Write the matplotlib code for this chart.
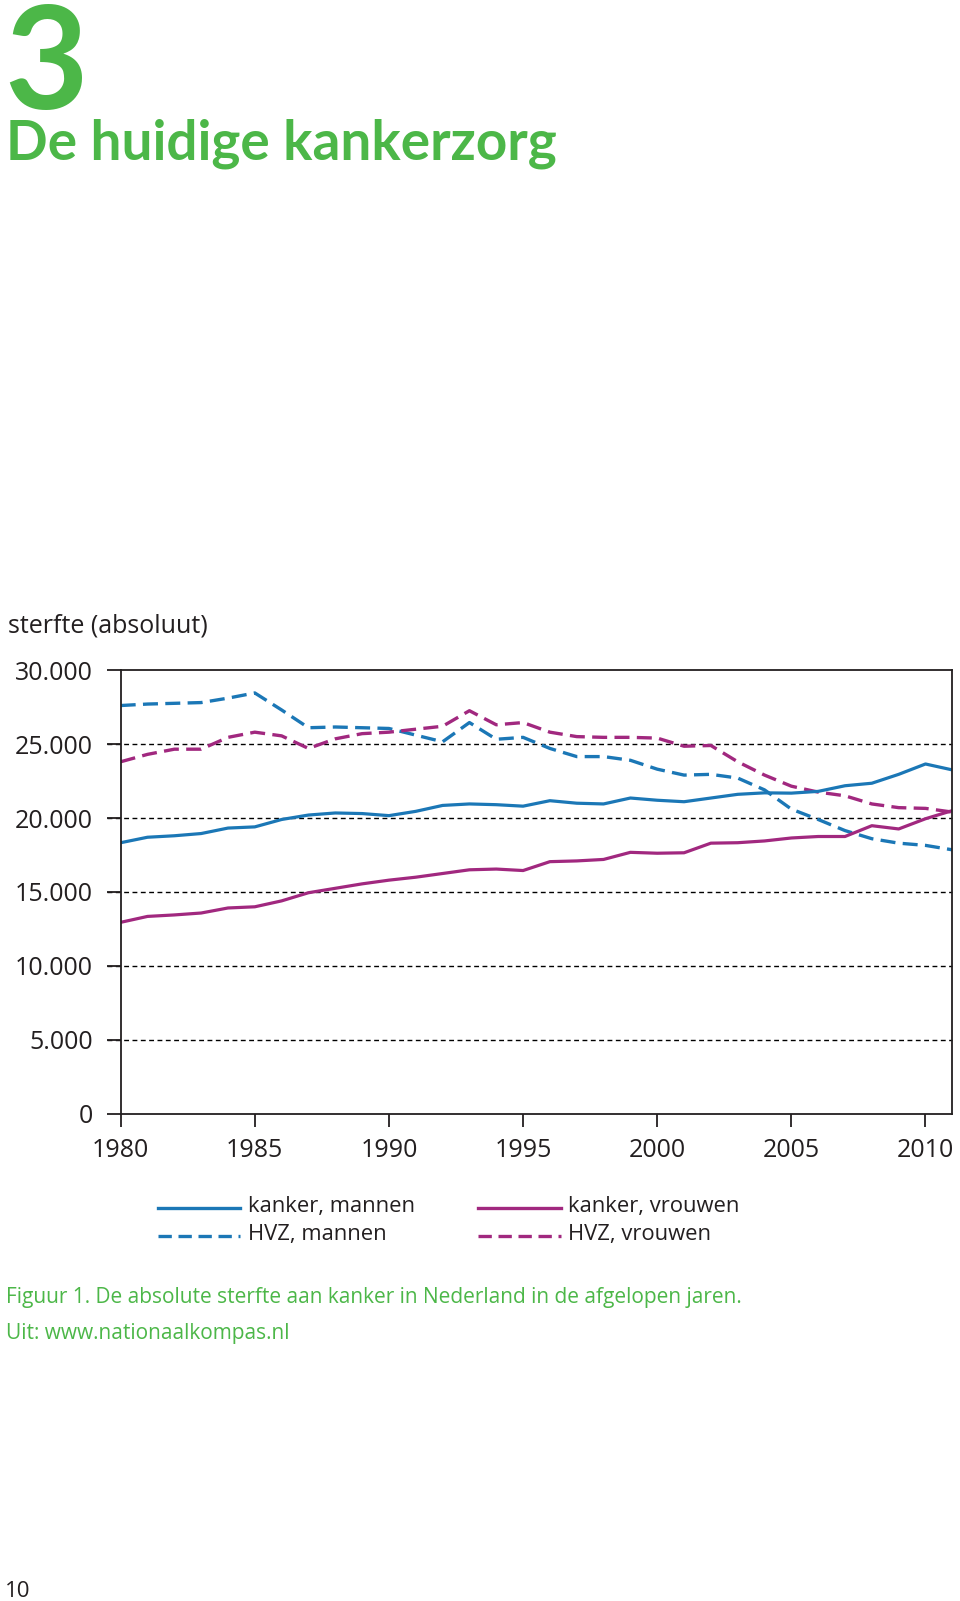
"""
Absolute sterfte aan kanker en HVZ in Nederland, 1980-2011.
Saves out.png (960x1601).
"""
import matplotlib
matplotlib.use("Agg")
import matplotlib.pyplot as plt
import matplotlib.ticker as ticker

plt.rcParams["font.family"] = ["Open Sans", "DejaVu Sans"]

GREEN = "#4cb748"
BLUE = "#1b77b6"
MAGENTA = "#a1287f"
TEXT = "#231f20"

# ── data ──────────────────────────────────────────────────────────────────────

years = list(range(1980, 2012))

kanker_mannen = [18330, 18700, 18800, 18950, 19320, 19400, 19900, 20200,
                 20340, 20300, 20160, 20450, 20850, 20950, 20900, 20800,
                 21170, 21000, 20950, 21350, 21200, 21100, 21350, 21600,
                 21700, 21680, 21800, 22180, 22350, 22950, 23650, 23250]

kanker_vrouwen = [12950, 13350, 13450, 13580, 13920, 14000, 14400, 14950,
                  15250, 15550, 15800, 16000, 16250, 16500, 16550, 16450,
                  17050, 17100, 17200, 17680, 17620, 17650, 18300, 18330,
                  18450, 18650, 18750, 18750, 19480, 19260, 19950, 20500]

hvz_mannen = [27600, 27700, 27750, 27800, 28100, 28450, 27300, 26100,
              26150, 26100, 26050, 25600, 25150, 26450, 25320, 25450,
              24700, 24150, 24150, 23900, 23300, 22900, 22950, 22700,
              21900, 20600, 19900, 19150, 18600, 18300, 18150, 17850]

hvz_vrouwen = [23800, 24300, 24650, 24650, 25450, 25800, 25550, 24700,
               25350, 25700, 25800, 26000, 26200, 27250, 26300, 26450,
               25800, 25500, 25450, 25450, 25400, 24850, 24900, 23800,
               22900, 22150, 21750, 21500, 20950, 20700, 20650, 20400]

y_ticks = [0, 5000, 10000, 15000, 20000, 25000, 30000]
x_ticks = [1980, 1985, 1990, 1995, 2000, 2005, 2010]

# ── figure ────────────────────────────────────────────────────────────────────

fig = plt.figure(figsize=(9.6, 16.01), dpi=100)

fig.text(0.004, 0.9318, "3", color=GREEN, fontsize=104, fontweight="bold",
         family="Lato", va="baseline", ha="left")
fig.text(0.006, 0.9005, "De huidige kankerzorg", color=GREEN, fontsize=39.5,
         fontweight="bold", family="Lato", va="baseline", ha="left")

ax = fig.add_axes([0.1257, 0.3042, 0.8663, 0.2773])

ax.plot(years, hvz_mannen, color=BLUE, lw=2.4, dashes=(4.5, 2.2))
ax.plot(years, hvz_vrouwen, color=MAGENTA, lw=2.4, dashes=(4.5, 2.2))
ax.plot(years, kanker_mannen, color=BLUE, lw=2.3)
ax.plot(years, kanker_vrouwen, color=MAGENTA, lw=2.3)

# dashed grid, starting at the tick marks left of the spine
grid_tr = ax.get_yaxis_transform()
for v in y_ticks[1:-1]:
    ax.plot([-0.017, 1], [v, v], transform=grid_tr, color="black", lw=1.0,
            dashes=(3.5, 2.5), clip_on=False, zorder=0.5)

ax.set_xlim(1980, 2011)
ax.set_ylim(0, 30000)
ax.set_xticks(x_ticks)
ax.set_yticks(y_ticks)
ax.yaxis.set_major_formatter(
    ticker.FuncFormatter(lambda v, _: "0" if v == 0 else f"{v:,.0f}".replace(",", ".")))

for s in ax.spines.values():
    s.set_linewidth(1.3)
    s.set_color(TEXT)
ax.tick_params(axis="y", length=10, width=1.3, pad=10, labelsize=18,
               labelcolor=TEXT, color=TEXT)
ax.tick_params(axis="x", length=9, width=1.3, pad=8, labelsize=18,
               labelcolor=TEXT, color=TEXT)

fig.text(0.008, 0.609, "sterfte (absoluut)", fontsize=18, color=TEXT,
         va="center", ha="left")

# ── legend, drawn as free lines + text like the original ─────────────────────

leg = [("kanker, mannen", BLUE, None, 0.1645, 0.2455),
       ("HVZ, mannen", BLUE, (4, 2), 0.1645, 0.2280),
       ("kanker, vrouwen", MAGENTA, None, 0.4980, 0.2455),
       ("HVZ, vrouwen", MAGENTA, (4, 2), 0.4980, 0.2280)]
for label, col, dash, x0, y0 in leg:
    kw = {"dashes": dash} if dash else {}
    fig.add_artist(plt.Line2D([x0, x0 + 0.086], [y0, y0], color=col, lw=2.4,
                              transform=fig.transFigure, **kw))
    fig.text(x0 + 0.094, y0 + 0.001, label, fontsize=15.8, color=TEXT,
             va="center", ha="left")

fig.text(0.006, 0.1895, "Figuur 1. De absolute sterfte aan kanker in Nederland "
         "in de afgelopen jaren.", fontsize=15, color=GREEN, va="center")
fig.text(0.006, 0.1668, "Uit: www.nationaalkompas.nl", fontsize=15,
         color=GREEN, va="center")

fig.text(0.005, 0.006, "10", fontsize=16, color=TEXT, va="center")

fig.savefig("out.png", dpi=100)
print("Saved out.png")
